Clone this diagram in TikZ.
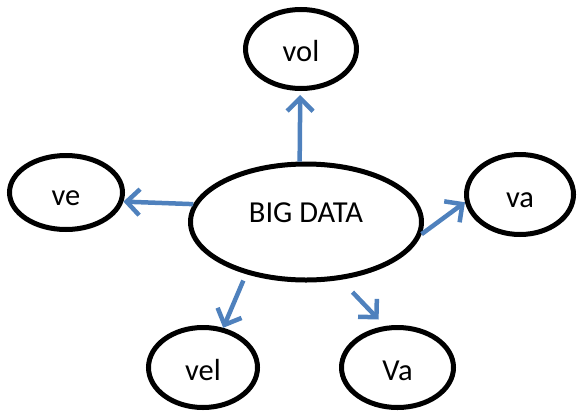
\documentclass[tikz,border=0pt]{standalone}
\usepackage{fontspec}
\setmainfont{Carlito}
\usetikzlibrary{shapes.geometric,arrows.meta}
\definecolor{arrowblue}{HTML}{4F81BD}
\tikzset{
  bubble/.style={ellipse, draw=black, line width=5pt, fill=white, inner sep=0pt,
    font=\fontsize{30.5}{34}\selectfont, text height=25pt, text depth=0pt},
  link/.style={draw=arrowblue, line width=4.5pt,
    -{Straight Barb[length=13pt, width=26pt]}},
}
\begin{document}
\begin{tikzpicture}[x=1pt, y=-1pt]
  \useasboundingbox (0,0) rectangle (577,415);
  % central topic and its five satellites
  \node[bubble, minimum width=231pt, minimum height=116pt,
        text height=12pt, text depth=12pt] (big) at (306,222) {BIG DATA};
  \node[bubble, minimum width=111pt, minimum height=79pt] (vol) at (301,49) {vol};
  \node[bubble, minimum width=113pt, minimum height=74pt] (ve) at (66,192.5) {ve};
  \node[bubble, minimum width=107pt, minimum height=80pt] (va) at (520,194.5) {va};
  \node[bubble, minimum width=109pt, minimum height=80pt] (vel) at (203,367.5) {vel};
  \node[bubble, minimum width=112pt, minimum height=80pt] (Va) at (397.5,367.5) {Va};
  % arrows from the centre outwards
  \draw[link, shorten >=4pt] (big.96) -- (vol.-91);
  \draw[link] (big.171.5) -- (ve.-9.4);
  \draw[link] (big.-6.4) -- (va.188.3);
  \draw[link, shorten <=7pt] (big.-139.6) -- (vel.63);
  \draw[link, shorten <=17pt, shorten >=9pt] (big.-59.6) -- (Va.107.3);
\end{tikzpicture}
\end{document}
